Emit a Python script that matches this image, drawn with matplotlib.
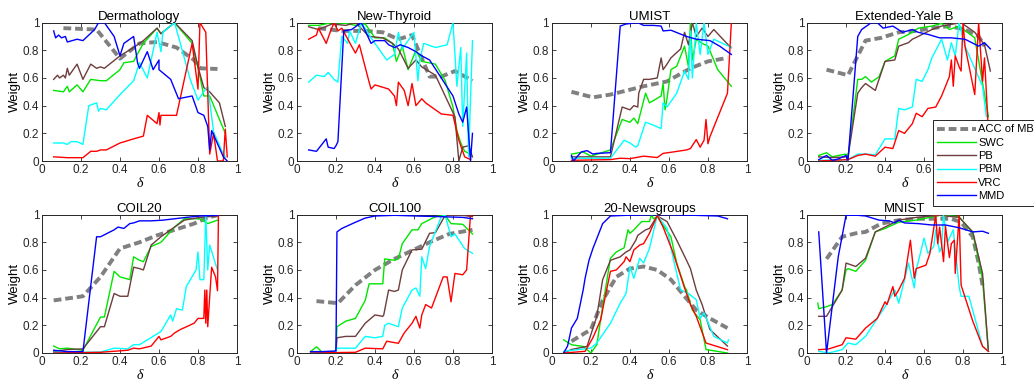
import numpy as np
from matplotlib import pyplot as plt

# series are lists of (delta, weight) points
titles = ['Dermathology', 'New-Thyroid', 'UMIST', 'Extended-Yale B',
          'COIL20', 'COIL100', '20-Newsgroups', 'MNIST']
labels = ['ACC of MBN', 'SWC', 'PB', 'PBM', 'VRC', 'MMD']

# ---- Dermathology
derm_acc = [(0.11,0.96),(0.28,0.95),(0.40,0.74),(0.50,0.85),(0.59,0.86),(0.69,0.82),(0.78,0.73),(0.81,0.67),(0.90,0.665)]
derm_swc = [(0.06,0.51),(0.11,0.50),(0.13,0.54),(0.14,0.50),(0.18,0.55),(0.21,0.50),(0.25,0.59),(0.30,0.58),(0.33,0.58),(0.40,0.66),(0.42,0.71),(0.47,0.72),(0.50,0.80),(0.52,0.85),(0.59,0.96),(0.61,0.92),(0.68,1.0),(0.77,0.85),(0.81,0.61),(0.83,0.47),(0.86,0.47),(0.94,0.20)]
derm_pb = [(0.06,0.59),(0.08,0.62),(0.09,0.60),(0.11,0.62),(0.12,0.60),(0.13,0.67),(0.14,0.62),(0.18,0.70),(0.21,0.59),(0.25,0.70),(0.28,0.67),(0.30,0.68),(0.32,0.67),(0.40,0.76),(0.47,0.82),(0.52,0.87),(0.59,0.96),(0.61,0.92),(0.68,1.0),(0.77,0.87),(0.80,0.68),(0.83,0.53),(0.86,0.50),(0.91,0.42),(0.94,0.25)]
derm_pbm = [(0.06,0.13),(0.11,0.13),(0.13,0.12),(0.15,0.14),(0.18,0.14),(0.21,0.12),(0.24,0.40),(0.28,0.42),(0.29,0.36),(0.30,0.38),(0.33,0.37),(0.40,0.48),(0.47,0.58),(0.50,0.71),(0.54,0.60),(0.59,0.93),(0.61,0.79),(0.62,0.93),(0.68,1.0),(0.76,0.59),(0.80,0.44),(0.85,0.54),(0.88,0.21),(0.92,0.08),(0.94,0.03)]
derm_vrc = [(0.06,0.03),(0.13,0.024),(0.21,0.024),(0.25,0.07),(0.28,0.07),(0.30,0.08),(0.33,0.08),(0.40,0.13),(0.47,0.16),(0.52,0.18),(0.54,0.33),(0.59,0.27),(0.60,0.35),(0.605,0.26),(0.61,0.33),(0.69,0.33),(0.73,0.59),(0.77,0.85),(0.80,0.52),(0.81,1.0),(0.84,0.93),(0.86,0.05),(0.88,0.20),(0.90,0.0),(0.93,0.0),(0.94,0.23),(0.95,0.03)]
derm_mmd = [(0.06,0.94),(0.07,0.89),(0.085,0.91),(0.10,0.89),(0.12,0.90),(0.13,0.86),(0.18,0.88),(0.21,0.87),(0.24,0.91),(0.27,0.95),(0.29,1.0),(0.32,1.0),(0.37,0.90),(0.40,0.76),(0.42,0.85),(0.47,0.90),(0.49,0.71),(0.50,0.67),(0.54,0.79),(0.57,0.66),(0.60,0.73),(0.60,0.66),(0.66,0.59),(0.70,0.45),(0.77,0.47),(0.80,0.35),(0.83,0.33),(0.85,0.25),(0.86,0.08),(0.87,0.22),(0.93,0.03),(0.95,0.0)]

# ---- New-Thyroid
thyr_acc = [(0.11,0.96),(0.23,0.94),(0.35,0.94),(0.44,0.93),(0.52,0.88),(0.59,0.91),(0.68,0.61),(0.74,0.61),(0.81,0.65),(0.90,0.58)]
thyr_swc = [(0.06,0.98),(0.11,0.98),(0.18,1.0),(0.25,0.995),(0.30,0.98),(0.35,0.99),(0.40,0.89),(0.45,0.89),(0.49,0.85),(0.51,0.72),(0.54,0.83),(0.57,0.66),(0.61,0.80),(0.64,0.72),(0.71,0.70),(0.76,0.58),(0.80,0.39),(0.82,0.22),(0.84,0.13),(0.86,0.07),(0.89,0.05)]
thyr_pb = [(0.06,0.97),(0.11,0.95),(0.18,0.99),(0.25,0.98),(0.30,1.0),(0.37,0.90),(0.44,0.89),(0.49,0.85),(0.52,0.81),(0.57,0.67),(0.61,0.73),(0.64,0.68),(0.71,0.62),(0.78,0.41),(0.81,0.32),(0.83,0.0),(0.85,0.10),(0.88,0.11),(0.90,0.03)]
thyr_pbm = [(0.06,0.57),(0.10,0.62),(0.14,0.61),(0.16,0.64),(0.19,0.59),(0.21,0.57),(0.23,0.90),(0.26,0.85),(0.27,0.94),(0.30,0.85),(0.33,1.0),(0.38,0.89),(0.46,0.73),(0.50,0.77),(0.52,0.93),(0.54,0.81),(0.57,0.87),(0.60,0.93),(0.62,0.58),(0.63,0.73),(0.65,0.85),(0.71,0.82),(0.77,0.84),(0.80,1.0),(0.82,0.54),(0.84,0.82),(0.85,0.25),(0.87,0.78),(0.88,0.03),(0.90,0.87)]
thyr_vrc = [(0.06,0.88),(0.10,0.91),(0.11,0.96),(0.15,0.85),(0.17,0.93),(0.19,1.0),(0.21,0.94),(0.23,0.96),(0.28,0.83),(0.30,0.78),(0.32,0.84),(0.37,0.57),(0.38,0.52),(0.40,0.55),(0.47,0.52),(0.50,0.47),(0.51,0.40),(0.52,0.57),(0.55,0.51),(0.57,0.40),(0.59,0.56),(0.61,0.40),(0.64,0.45),(0.66,0.42),(0.74,0.34),(0.80,0.33),(0.83,0.15),(0.86,0.03),(0.89,0.01)]
thyr_mmd = [(0.06,0.08),(0.10,0.07),(0.15,0.16),(0.16,0.10),(0.19,0.09),(0.20,0.11),(0.21,0.14),(0.24,0.94),(0.28,0.95),(0.33,1.0),(0.38,0.85),(0.40,0.87),(0.45,0.87),(0.47,0.84),(0.50,0.82),(0.53,0.84),(0.57,0.82),(0.61,0.79),(0.64,0.76),(0.68,0.73),(0.74,0.60),(0.80,0.47),(0.83,0.34),(0.85,0.28),(0.87,0.39),(0.89,0.0),(0.90,0.20)]

# ---- UMIST
umist_acc = [(0.10,0.50),(0.21,0.46),(0.30,0.48),(0.47,0.54),(0.59,0.575),(0.71,0.67),(0.80,0.72),(0.90,0.745)]
umist_swc = [(0.10,0.05),(0.16,0.065),(0.20,0.035),(0.30,0.08),(0.36,0.30),(0.40,0.28),(0.42,0.31),(0.44,0.27),(0.48,0.49),(0.50,0.42),(0.56,0.47),(0.57,0.56),(0.58,0.37),(0.59,0.45),(0.61,0.66),(0.64,0.685),(0.68,0.83),(0.70,0.68),(0.71,1.0),(0.72,0.73),(0.74,0.88),(0.77,0.85),(0.80,0.83),(0.85,0.66),(0.92,0.54)]
umist_pb = [(0.10,0.03),(0.13,0.03),(0.20,0.03),(0.30,0.03),(0.36,0.39),(0.40,0.37),(0.42,0.40),(0.44,0.39),(0.445,0.49),(0.47,0.59),(0.50,0.59),(0.54,0.60),(0.56,0.745),(0.57,0.66),(0.59,0.70),(0.61,0.745),(0.66,0.81),(0.68,0.93),(0.70,0.84),(0.72,1.0),(0.74,0.90),(0.77,0.96),(0.80,0.90),(0.83,0.95),(0.91,0.83),(0.92,0.82)]
umist_pbm = [(0.10,0.02),(0.20,0.02),(0.30,0.02),(0.37,0.15),(0.40,0.13),(0.43,0.10),(0.44,0.11),(0.48,0.28),(0.50,0.27),(0.56,0.235),(0.57,0.42),(0.59,0.39),(0.64,0.49),(0.68,0.65),(0.70,0.59),(0.71,0.94),(0.72,0.60),(0.74,0.995),(0.76,0.77),(0.78,1.0),(0.80,0.77),(0.83,0.88),(0.92,0.82)]
umist_vrc = [(0.10,0.005),(0.30,0.01),(0.35,0.02),(0.40,0.017),(0.47,0.035),(0.54,0.025),(0.57,0.055),(0.62,0.065),(0.69,0.08),(0.71,0.09),(0.74,0.155),(0.76,0.10),(0.78,0.15),(0.79,0.30),(0.80,0.125),(0.81,0.175),(0.90,0.49),(0.92,1.0)]
umist_mmd = [(0.10,0.04),(0.11,0.0),(0.15,0.065),(0.18,0.075),(0.21,0.05),(0.23,0.055),(0.30,0.06),(0.35,0.975),(0.38,0.99),(0.44,1.0),(0.47,0.98),(0.52,0.98),(0.56,0.975),(0.57,0.94),(0.61,0.945),(0.69,0.90),(0.74,0.88),(0.81,0.87),(0.86,0.83),(0.92,0.77)]

# ---- Extended-Yale B
yale_acc = [(0.10,0.66),(0.21,0.62),(0.30,0.87),(0.38,0.89),(0.47,0.93),(0.56,0.94),(0.64,0.96),(0.73,0.975),(0.81,0.95),(0.88,0.90),(0.91,0.83)]
yale_swc = [(0.06,0.04),(0.10,0.06),(0.13,0.03),(0.16,0.04),(0.20,0.05),(0.21,0.03),(0.26,0.59),(0.28,0.59),(0.30,0.61),(0.33,0.57),(0.37,0.61),(0.40,0.72),(0.45,0.76),(0.47,0.88),(0.50,0.90),(0.54,0.93),(0.57,0.96),(0.64,0.975),(0.69,0.995),(0.73,0.95),(0.78,0.975),(0.86,0.89),(0.93,0.32)]
yale_pb = [(0.06,0.03),(0.13,0.025),(0.21,0.03),(0.26,0.49),(0.28,0.53),(0.30,0.56),(0.35,0.51),(0.40,0.72),(0.45,0.73),(0.47,0.83),(0.52,0.855),(0.54,0.88),(0.57,0.90),(0.64,0.95),(0.69,0.975),(0.79,1.0),(0.86,0.93),(0.91,0.84),(0.94,0.65)]
yale_pbm = [(0.06,0.005),(0.21,0.01),(0.26,0.05),(0.30,0.05),(0.35,0.045),(0.40,0.16),(0.45,0.16),(0.47,0.38),(0.50,0.37),(0.54,0.39),(0.56,0.59),(0.59,0.575),(0.62,0.66),(0.64,0.745),(0.69,0.88),(0.72,0.73),(0.74,0.855),(0.76,0.76),(0.78,1.0),(0.81,0.83),(0.90,0.54),(0.92,0.32)]
yale_vrc = [(0.06,0.0),(0.21,0.01),(0.26,0.04),(0.30,0.05),(0.35,0.035),(0.40,0.10),(0.44,0.09),(0.47,0.22),(0.50,0.20),(0.54,0.27),(0.56,0.345),(0.59,0.32),(0.62,0.38),(0.66,0.39),(0.69,0.47),(0.73,0.61),(0.74,0.73),(0.75,0.54),(0.76,0.76),(0.78,0.68),(0.79,0.65),(0.80,1.0),(0.81,0.83),(0.86,0.48),(0.88,1.0),(0.90,0.575),(0.91,0.745),(0.93,0.22)]
yale_mmd = [(0.06,0.01),(0.10,0.04),(0.13,0.005),(0.16,0.015),(0.20,0.04),(0.21,0.005),(0.26,0.90),(0.28,0.95),(0.33,1.0),(0.36,1.0),(0.39,0.96),(0.44,0.975),(0.49,0.93),(0.54,0.95),(0.57,0.93),(0.62,0.915),(0.68,0.89),(0.74,0.89),(0.81,0.88),(0.88,0.83),(0.91,0.855),(0.94,0.81)]

# ---- COIL20
c20_acc = [(0.06,0.38),(0.11,0.39),(0.21,0.41),(0.30,0.55),(0.40,0.755),(0.50,0.80),(0.59,0.85),(0.68,0.89),(0.78,0.935),(0.85,0.98),(0.90,0.995)]
c20_swc = [(0.06,0.05),(0.09,0.03),(0.13,0.035),(0.21,0.02),(0.30,0.26),(0.32,0.26),(0.37,0.59),(0.40,0.55),(0.45,0.53),(0.47,0.695),(0.50,0.67),(0.52,0.66),(0.56,0.77),(0.61,0.80),(0.68,0.91),(0.73,0.97),(0.81,0.97),(0.85,0.935),(0.90,0.96)]
c20_pb = [(0.06,0.01),(0.13,0.025),(0.21,0.03),(0.30,0.19),(0.32,0.19),(0.37,0.43),(0.40,0.41),(0.44,0.41),(0.47,0.62),(0.50,0.61),(0.52,0.60),(0.56,0.78),(0.61,0.84),(0.68,0.91),(0.73,0.96),(0.81,0.98),(0.90,0.99)]
c20_pbm = [(0.06,0.005),(0.21,0.005),(0.30,0.007),(0.37,0.035),(0.44,0.03),(0.47,0.06),(0.50,0.06),(0.61,0.155),(0.66,0.275),(0.67,0.23),(0.69,0.32),(0.72,0.31),(0.74,0.48),(0.79,0.60),(0.80,0.73),(0.81,0.53),(0.83,0.53),(0.84,0.995),(0.85,0.60),(0.86,0.78),(0.90,0.60)]
c20_vrc = [(0.06,0.0),(0.30,0.005),(0.44,0.02),(0.47,0.035),(0.50,0.03),(0.56,0.05),(0.60,0.12),(0.61,0.095),(0.66,0.12),(0.68,0.145),(0.71,0.17),(0.78,0.215),(0.80,0.25),(0.83,0.25),(0.835,0.455),(0.84,0.215),(0.845,0.455),(0.85,0.19),(0.87,0.62),(0.89,0.55),(0.90,0.45),(0.905,1.0)]
c20_mmd = [(0.06,0.02),(0.13,0.01),(0.21,0.01),(0.28,0.84),(0.30,0.84),(0.37,0.89),(0.39,0.91),(0.42,0.90),(0.45,0.935),(0.47,0.94),(0.50,0.955),(0.56,0.955),(0.62,0.96),(0.68,0.97),(0.74,0.98),(0.81,0.99),(0.90,0.995)]

# ---- COIL100
c100_acc = [(0.10,0.375),(0.21,0.36),(0.30,0.49),(0.40,0.60),(0.50,0.68),(0.59,0.74),(0.68,0.80),(0.78,0.86),(0.90,0.89)]
c100_swc = [(0.07,0.01),(0.10,0.045),(0.13,0.005),(0.20,0.01),(0.205,0.19),(0.25,0.23),(0.30,0.25),(0.35,0.38),(0.37,0.50),(0.44,0.50),(0.45,0.68),(0.50,0.67),(0.52,0.68),(0.54,0.79),(0.59,0.89),(0.62,0.89),(0.64,0.935),(0.71,0.985),(0.76,0.995),(0.79,0.935),(0.85,0.93),(0.90,0.86)]
c100_pb = [(0.07,0.007),(0.20,0.007),(0.205,0.11),(0.25,0.12),(0.30,0.12),(0.35,0.215),(0.40,0.275),(0.44,0.265),(0.445,0.275),(0.47,0.455),(0.50,0.445),(0.52,0.455),(0.54,0.60),(0.59,0.745),(0.64,0.75),(0.68,0.865),(0.71,0.87),(0.76,0.995),(0.85,0.995),(0.90,0.985)]
c100_pbm = [(0.07,0.005),(0.20,0.005),(0.205,0.035),(0.30,0.035),(0.35,0.12),(0.40,0.11),(0.44,0.12),(0.45,0.20),(0.47,0.215),(0.52,0.19),(0.54,0.325),(0.59,0.455),(0.61,0.47),(0.63,0.41),(0.64,0.695),(0.66,0.61),(0.68,0.77),(0.74,0.985),(0.76,0.995),(0.79,0.84),(0.81,0.86),(0.86,0.755),(0.90,0.72)]
c100_vrc = [(0.07,0.0),(0.30,0.005),(0.35,0.035),(0.44,0.03),(0.46,0.085),(0.52,0.07),(0.55,0.145),(0.59,0.215),(0.61,0.265),(0.63,0.18),(0.64,0.275),(0.66,0.35),(0.69,0.325),(0.75,0.55),(0.77,0.55),(0.79,0.37),(0.81,0.575),(0.85,0.565),(0.87,0.60),(0.89,1.0),(0.90,1.0)]
c100_mmd = [(0.07,0.01),(0.13,0.01),(0.20,0.015),(0.205,0.875),(0.23,0.90),(0.30,0.945),(0.35,0.975),(0.40,0.99),(0.50,0.995),(0.61,0.99),(0.74,0.985),(0.85,0.98),(0.90,0.97)]

# ---- 20-Newsgroups
news_acc = [(0.10,0.085),(0.20,0.17),(0.26,0.38),(0.33,0.55),(0.40,0.61),(0.47,0.625),(0.54,0.60),(0.61,0.53),(0.68,0.41),(0.74,0.31),(0.81,0.25),(0.90,0.18)]
news_swc = [(0.06,0.095),(0.10,0.06),(0.13,0.053),(0.16,0.048),(0.20,0.0),(0.23,0.06),(0.26,0.335),(0.30,0.685),(0.33,0.73),(0.37,0.76),(0.39,0.89),(0.40,0.865),(0.42,0.89),(0.46,0.95),(0.50,0.95),(0.51,1.0),(0.52,0.97),(0.54,0.985),(0.61,0.84),(0.64,0.65),(0.68,0.48),(0.69,0.455),(0.72,0.31),(0.76,0.24),(0.79,0.025),(0.90,0.0)]
news_pb = [(0.06,0.0),(0.10,0.025),(0.18,0.048),(0.23,0.265),(0.26,0.53),(0.30,0.67),(0.35,0.695),(0.38,0.73),(0.40,0.745),(0.43,0.815),(0.44,0.85),(0.48,0.89),(0.50,0.90),(0.54,0.99),(0.59,0.95),(0.64,0.815),(0.69,0.67),(0.71,0.61),(0.74,0.455),(0.77,0.35),(0.81,0.17),(0.90,0.05)]
news_pbm = [(0.06,0.012),(0.13,0.024),(0.20,0.036),(0.23,0.072),(0.30,0.215),(0.35,0.36),(0.38,0.43),(0.40,0.625),(0.42,0.54),(0.45,0.685),(0.47,0.65),(0.50,0.755),(0.54,0.995),(0.59,0.90),(0.62,0.695),(0.66,0.455),(0.70,0.43),(0.74,0.385),(0.76,0.25),(0.78,0.29),(0.83,0.12),(0.90,0.072),(0.905,0.095)]
news_vrc = [(0.06,0.0),(0.17,0.012),(0.21,0.11),(0.25,0.24),(0.27,0.385),(0.30,0.59),(0.33,0.60),(0.37,0.66),(0.38,0.695),(0.40,0.66),(0.42,0.745),(0.45,0.78),(0.47,0.79),(0.50,0.865),(0.54,0.995),(0.57,0.91),(0.62,0.73),(0.68,0.47),(0.71,0.35),(0.74,0.265),(0.79,0.072),(0.90,0.024)]
news_mmd = [(0.06,0.0),(0.08,0.05),(0.10,0.18),(0.13,0.25),(0.16,0.455),(0.17,0.54),(0.19,0.67),(0.21,0.755),(0.26,0.935),(0.30,0.99),(0.38,0.995),(0.56,1.0),(0.73,0.995),(0.85,0.99),(0.90,0.97)]

# ---- MNIST
mnist_acc = [(0.10,0.68),(0.18,0.84),(0.25,0.865),(0.30,0.875),(0.38,0.935),(0.47,0.96),(0.56,0.97),(0.64,0.97),(0.74,0.97),(0.79,0.945),(0.81,0.91),(0.85,0.84),(0.88,0.65),(0.90,0.49)]
mnist_swc = [(0.055,0.36),(0.06,0.32),(0.10,0.335),(0.13,0.35),(0.18,0.455),(0.20,0.60),(0.21,0.61),(0.25,0.59),(0.30,0.67),(0.35,0.875),(0.40,0.90),(0.47,0.945),(0.56,0.96),(0.68,0.995),(0.78,0.985),(0.85,0.865),(0.88,0.67),(0.90,0.53),(0.93,0.012)]
mnist_pb = [(0.06,0.265),(0.10,0.265),(0.18,0.455),(0.20,0.65),(0.25,0.625),(0.30,0.685),(0.35,0.875),(0.47,0.96),(0.56,0.98),(0.68,0.995),(0.78,0.98),(0.85,0.875),(0.90,0.575),(0.93,0.012)]
mnist_pbm = [(0.06,0.012),(0.11,0.0),(0.18,0.024),(0.21,0.072),(0.25,0.06),(0.30,0.12),(0.40,0.335),(0.45,0.455),(0.47,0.36),(0.50,0.53),(0.52,0.65),(0.55,0.47),(0.56,0.60),(0.60,0.83),(0.62,0.72),(0.65,0.77),(0.66,0.89),(0.68,0.73),(0.69,0.77),(0.70,0.995),(0.72,0.80),(0.75,0.89),(0.78,0.48),(0.79,0.41),(0.83,0.41),(0.90,0.048),(0.93,0.012)]
mnist_vrc = [(0.06,0.024),(0.11,0.029),(0.18,0.06),(0.20,0.11),(0.25,0.10),(0.30,0.18),(0.36,0.25),(0.40,0.37),(0.41,0.35),(0.44,0.48),(0.45,0.41),(0.47,0.455),(0.50,0.54),(0.53,0.815),(0.55,0.54),(0.56,0.61),(0.61,0.635),(0.63,0.72),(0.66,0.995),(0.67,0.79),(0.68,0.91),(0.70,0.66),(0.71,0.915),(0.73,0.69),(0.74,0.79),(0.755,0.815),(0.76,0.575),(0.78,0.995),(0.79,0.49),(0.85,0.23),(0.90,0.048),(0.93,0.012)]
mnist_mmd = [(0.06,0.875),(0.10,0.0),(0.16,0.695),(0.20,0.995),(0.26,0.995),(0.30,0.99),(0.37,0.96),(0.42,0.955),(0.45,0.94),(0.47,0.96),(0.50,0.94),(0.57,0.935),(0.64,0.925),(0.71,0.925),(0.78,0.905),(0.85,0.875),(0.90,0.88),(0.93,0.865)]

panels = [
    [derm_acc, derm_swc, derm_pb, derm_pbm, derm_vrc, derm_mmd],
    [thyr_acc, thyr_swc, thyr_pb, thyr_pbm, thyr_vrc, thyr_mmd],
    [umist_acc, umist_swc, umist_pb, umist_pbm, umist_vrc, umist_mmd],
    [yale_acc, yale_swc, yale_pb, yale_pbm, yale_vrc, yale_mmd],
    [c20_acc, c20_swc, c20_pb, c20_pbm, c20_vrc, c20_mmd],
    [c100_acc, c100_swc, c100_pb, c100_pbm, c100_vrc, c100_mmd],
    [news_acc, news_swc, news_pb, news_pbm, news_vrc, news_mmd],
    [mnist_acc, mnist_swc, mnist_pb, mnist_pbm, mnist_vrc, mnist_mmd],
]

colors = ['#808080', '#00e600', '#6e3d3d', '#00ffff', '#ff0000', '#0000ff']

plt.rcParams['font.family'] = ['Liberation Sans', 'DejaVu Sans']
fig = plt.figure(figsize=(10.34, 3.86), dpi=100)

lefts = [0.0406, 0.2872, 0.5338, 0.7805]
bottoms = [0.5829, 0.0855]
w, h = 0.1886, 0.3585

handles = []
for i, series in enumerate(panels):
    ax = fig.add_axes([lefts[i % 4], bottoms[i // 4], w, h])
    for j, pts in enumerate(series):
        p = np.array(pts)
        if j == 0:
            ln, = ax.plot(p[:, 0], p[:, 1], color=colors[j], lw=2.8,
                          dashes=(2.0, 1.0), zorder=2)
        else:
            ln, = ax.plot(p[:, 0], p[:, 1], color=colors[j], lw=1.0, zorder=3)
        if i == 0:
            handles.append(ln)
    ax.set_xlim(0, 1)
    ax.set_ylim(0, 1)
    ax.set_xticks([0, 0.2, 0.4, 0.6, 0.8, 1])
    ax.set_xticklabels(['0', '0.2', '0.4', '0.6', '0.8', '1'])
    ax.set_yticks([0, 0.2, 0.4, 0.6, 0.8, 1])
    ax.set_yticklabels(['0', '0.2', '0.4', '0.6', '0.8', '1'])
    ax.tick_params(direction='in', length=3, width=0.6, labelsize=8.5,
                   colors='#262626', top=True, right=True, pad=2)
    for s in ax.spines.values():
        s.set_linewidth(0.7)
        s.set_color('#262626')
    ax.set_title(titles[i], fontsize=9.5, pad=2)
    ax.set_ylabel('Weight', fontsize=9.5, labelpad=1)
    ax.set_xlabel('δ', fontsize=10, family='Liberation Serif', style='italic', labelpad=1)

leg = fig.legend(handles, labels, loc='upper left', bbox_to_anchor=(0.902, 0.689),
                 fontsize=8, frameon=True, fancybox=False, framealpha=1,
                 edgecolor='#262626', handlelength=3.5, borderpad=0.4,
                 labelspacing=0.3, handletextpad=0.2, borderaxespad=0)
leg.get_frame().set_linewidth(0.7)

fig.savefig('out.png', dpi=100)
